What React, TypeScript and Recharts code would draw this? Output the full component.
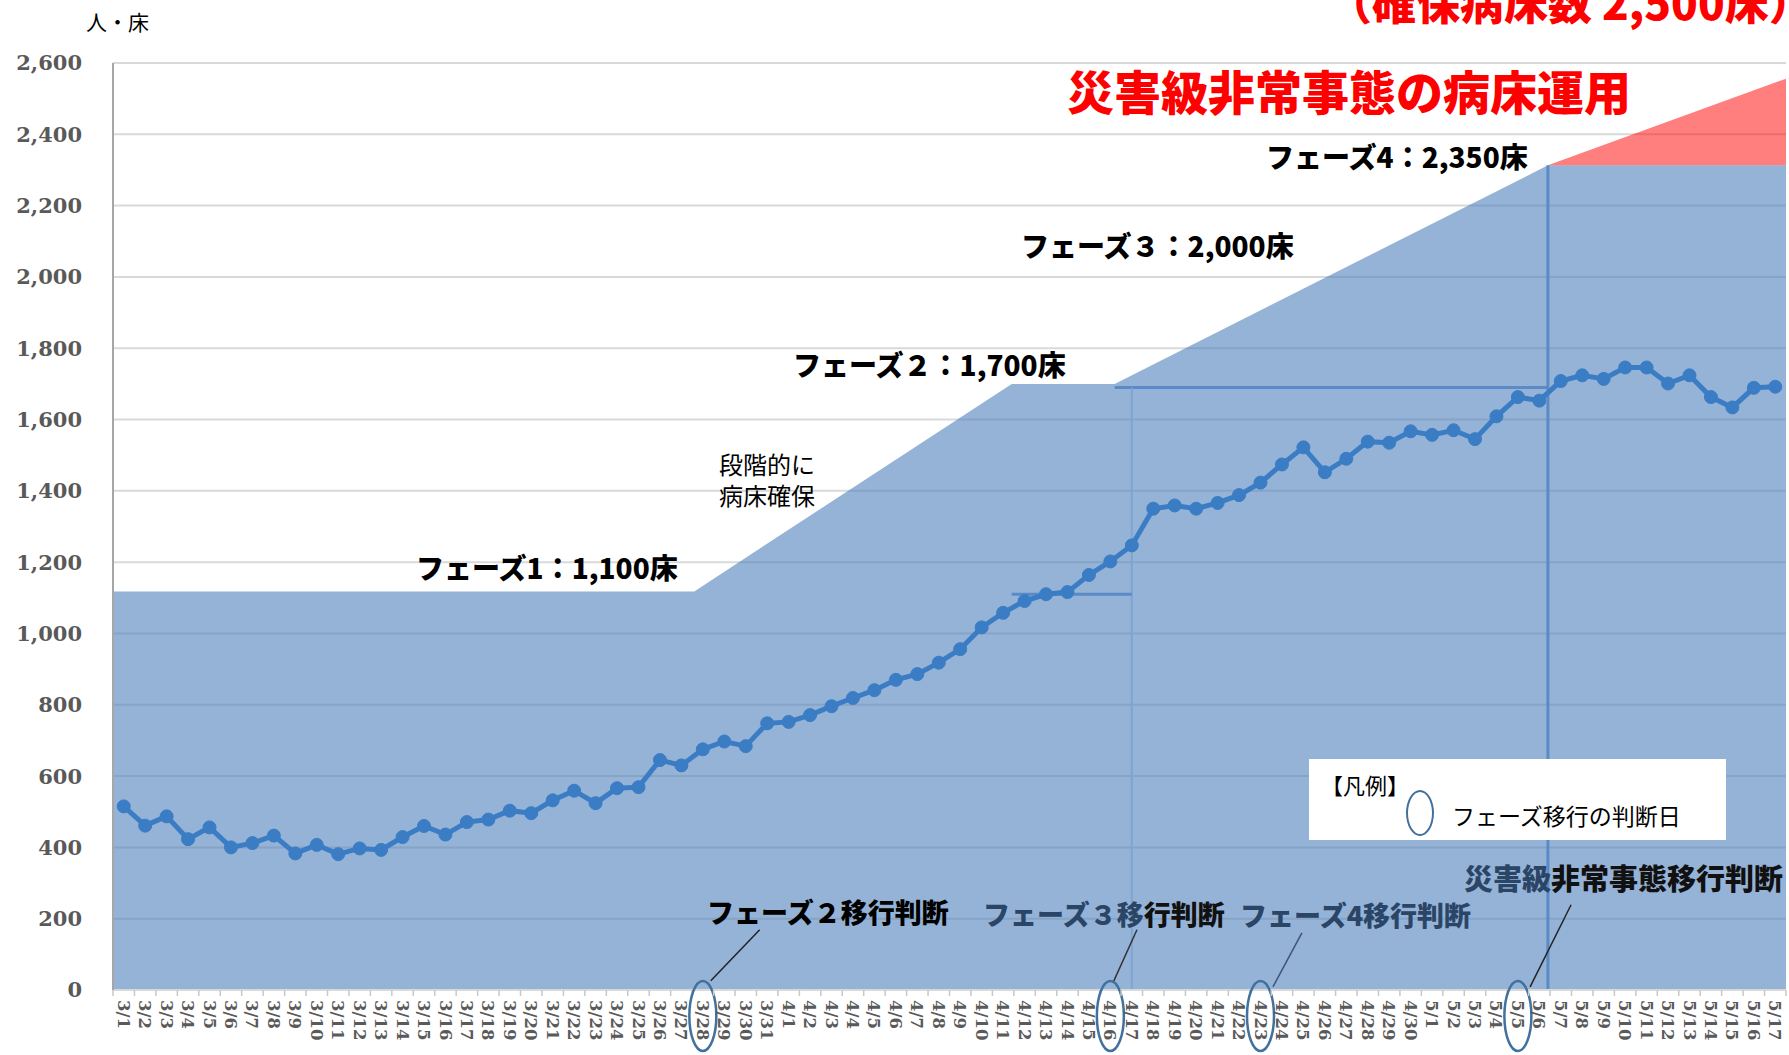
import React from 'react';
import { ComposedChart, Area, Line, XAxis, YAxis, CartesianGrid, ReferenceLine } from 'recharts';

// ---------------- data ----------------
const dateLabels = [
  '3/1','3/2','3/3','3/4','3/5','3/6','3/7','3/8','3/9','3/10',
  '3/11','3/12','3/13','3/14','3/15','3/16','3/17','3/18','3/19','3/20',
  '3/21','3/22','3/23','3/24','3/25','3/26','3/27','3/28','3/29','3/30','3/31',
  '4/1','4/2','4/3','4/4','4/5','4/6','4/7','4/8','4/9','4/10',
  '4/11','4/12','4/13','4/14','4/15','4/16','4/17','4/18','4/19','4/20',
  '4/21','4/22','4/23','4/24','4/25','4/26','4/27','4/28','4/29','4/30',
  '5/1','5/2','5/3','5/4','5/5','5/6','5/7','5/8','5/9','5/10',
  '5/11','5/12','5/13','5/14','5/15','5/16','5/17',
];

const inpatients = [
  515, 461, 487, 423, 456, 400, 412, 433, 383, 407,
  381, 397, 393, 429, 460, 436, 471, 478, 503, 496,
  532, 559, 524, 566, 569, 645, 630, 675, 697, 684, 748,
  752, 771, 796, 819, 841, 870, 886, 918, 956, 1017,
  1058, 1091, 1110, 1116, 1164, 1202, 1247, 1350, 1359, 1350,
  1366, 1388, 1423, 1474, 1522, 1452, 1490, 1538, 1535, 1567,
  1557, 1570, 1545, 1609, 1663, 1653, 1708, 1724, 1714, 1746,
  1746, 1701, 1724, 1663, 1634, 1689, 1692,
];

// secured-bed capacity (category index positions of the breakpoints)
const capacityIdx = [-0.5, 26.6, 41.4, 46.2, 66.4, 77.5];
const capacityBeds = [1118, 1118, 1700, 1700, 2313, 2313];

// disaster-level emergency band
const emergencyIdx = [66.4, 77.5];
const emergencyLow = [2313, 2313];
const emergencyHigh = [2313, 2556];

const judgmentDays = ['3/28', '4/16', '4/23', '5/5'];
const yTicks = [0, 200, 400, 600, 800, 1000, 1200, 1400, 1600, 1800, 2000, 2200, 2400, 2600];

// phase guide lines [x1, y1, x2, y2, colour, width]
const phaseGuides: [number, number, number, number, string, number][] = [
  [46.2, 1690, 66.4, 1690, '#5b8bc6', 3],
  [47.0, 1690, 47.0, 0, '#7da5d3', 2],
  [41.4, 1110, 47.0, 1110, '#5b8bc6', 3],
  [66.4, 2313, 66.4, 0, '#5b8bc6', 3],
];

// leader lines from judgment labels to circled dates [x1, y1, x2, y2, colour]
const leaders: [number, number, number, number, string][] = [
  [29.65, 169, 27.37, 26, '#222'],
  [47.24, 169, 46.12, 20, '#333'],
  [54.93, 160, 53.58, 9, '#3b5676'],
  [67.48, 239, 65.57, 9, '#222'],
];

// ---------------- layout ----------------
const W = 1789;
const H = 1055;
const M = { top: 63, right: 3, left: 0, bottom: 0 };
const Y_AXIS_W = 113;
const X_AXIS_H = 65;
const PLOT_W = W - M.left - M.right - Y_AXIS_W;
const BAND = PLOT_W / dateLabels.length;

const JP = "'Noto Sans CJK JP', 'Noto Sans', sans-serif";
const SERIF = "'DejaVu Serif', serif";

// ---------------- table ----------------
type Row = { x: number; inpatients?: number; capacity?: number; emergency?: [number, number] };
const rowMap = new Map<number, Row>();
const row = (x: number) => {
  if (!rowMap.has(x)) rowMap.set(x, { x });
  return rowMap.get(x)!;
};
dateLabels.forEach((_, i) => { row(i).inpatients = inpatients[i]; });
capacityIdx.forEach((x, i) => { row(x).capacity = capacityBeds[i]; });
emergencyIdx.forEach((x, i) => { row(x).emergency = [emergencyLow[i], emergencyHigh[i]]; });
const chartData = Array.from(rowMap.values()).sort((a, b) => a.x - b.x);
const xTicks = dateLabels.map((_, i) => i);

function DateTick(props: any) {
  const { x, y, payload } = props;
  const idx = payload.value as number;
  const label = dateLabels[idx];
  const judged = judgmentDays.includes(label);
  return (
    <g transform={`translate(${x},${y})`}>
      <line x1={-BAND / 2} x2={-BAND / 2} y1={0} y2={6} stroke="#c8c8c8" strokeWidth={1.5} />
      {idx === dateLabels.length - 1 && (
        <line x1={BAND / 2} x2={BAND / 2} y1={0} y2={6} stroke="#c8c8c8" strokeWidth={1.5} />
      )}
      <text
        transform="rotate(90)"
        x={10}
        y={0}
        dy="0.36em"
        textAnchor="start"
        fontFamily={SERIF}
        fontWeight="bold"
        fontSize={16.5}
        fill="#5a5a5a"
      >
        {label}
      </text>
      {judged && (
        <ellipse cx={0} cy={26} rx={13.5} ry={35} fill="none" stroke="#41719c" strokeWidth={2.5} />
      )}
    </g>
  );
}

function Txt(props: {
  x: number; cy: number; size: number; weight?: number; color?: string;
  children: React.ReactNode; family?: string;
}) {
  const { x, cy, size, weight = 400, color = '#000', children, family = JP } = props;
  return (
    <div
      style={{
        position: 'absolute',
        left: x,
        top: cy - size * 0.56,
        fontSize: size,
        lineHeight: 1,
        fontWeight: weight,
        color,
        fontFamily: family,
        whiteSpace: 'nowrap',
      }}
    >
      {children}
    </div>
  );
}

const SLATE = '#2b4567';

export default function App() {
  return (
    <div
      style={{
        position: 'absolute',
        left: 0,
        top: 0,
        width: W,
        height: H,
        overflow: 'hidden',
        background: '#fff',
      }}
    >
      <ComposedChart width={W} height={H} data={chartData} margin={M}>
        <CartesianGrid horizontal vertical={false} stroke="#d9d9d9" strokeWidth={2} />
        <XAxis
          dataKey="x"
          type="number"
          domain={[-0.5, 77.5]}
          ticks={xTicks}
          interval={0}
          allowDataOverflow
          height={X_AXIS_H}
          tickLine={false}
          tickSize={0}
          tickMargin={0}
          axisLine={{ stroke: '#d9d9d9', strokeWidth: 2 }}
          tick={<DateTick />}
        />
        <YAxis
          type="number"
          domain={[0, 2600]}
          ticks={yTicks}
          interval={0}
          width={Y_AXIS_W}
          tickLine={false}
          tickSize={6}
          tickMargin={25}
          axisLine={{ stroke: '#a6a6a6', strokeWidth: 2 }}
          tickFormatter={(v: number) => v.toLocaleString('en-US')}
          tick={{ fontFamily: SERIF, fontWeight: 700, fontSize: 21, fill: '#595959' }}
        />
        <Area
          type="linear"
          dataKey="capacity"
          connectNulls
          stroke="none"
          fill="#4f81bd"
          fillOpacity={0.6}
          isAnimationActive={false}
          dot={false}
          activeDot={false}
        />
        <Area
          type="linear"
          dataKey="emergency"
          connectNulls
          stroke="none"
          fill="#ff0000"
          fillOpacity={0.5}
          isAnimationActive={false}
          dot={false}
          activeDot={false}
        />
        {phaseGuides.map(([x1, y1, x2, y2, c, w], i) => (
          <ReferenceLine
            key={`g${i}`}
            segment={[{ x: x1, y: y1 }, { x: x2, y: y2 }]}
            stroke={c}
            strokeWidth={w}
            ifOverflow="visible"
          />
        ))}
        <Line
          type="linear"
          dataKey="inpatients"
          connectNulls
          stroke="#3b7dc4"
          strokeWidth={5}
          dot={{ r: 6.5, fill: '#3b7dc4', stroke: '#3b7dc4', strokeWidth: 1 }}
          activeDot={false}
          isAnimationActive={false}
        />
        {leaders.map(([x1, y1, x2, y2, c], i) => (
          <ReferenceLine
            key={`l${i}`}
            segment={[{ x: x1, y: y1 }, { x: x2, y: y2 }]}
            stroke={c}
            strokeWidth={1.5}
            ifOverflow="visible"
          />
        ))}
      </ComposedChart>

      {/* annotations */}
      <Txt x={86} cy={23} size={21}>人・床</Txt>
      <Txt x={1328} cy={4} size={44} weight={900} color="#ff0000">（確保病床数 2,500床）</Txt>
      <Txt x={1067} cy={92} size={47} weight={900} color="#ff0000">災害級非常事態の病床運用</Txt>
      <Txt x={1266} cy={158} size={28} weight={900}>フェーズ4：2,350床</Txt>
      <Txt x={1021} cy={247} size={28} weight={900}>フェーズ３：2,000床</Txt>
      <Txt x={793} cy={366} size={28} weight={900}>フェーズ２：1,700床</Txt>
      <Txt x={416} cy={569} size={28} weight={900}>フェーズ1：1,100床</Txt>
      <div
        style={{
          position: 'absolute', left: 719, top: 448, fontSize: 24, lineHeight: '31px',
          fontFamily: JP, color: '#000', whiteSpace: 'nowrap',
        }}
      >
        段階的に<br />病床確保
      </div>

      <div
        style={{
          position: 'absolute', left: 1309, top: 759, width: 417, height: 81, background: '#fff',
        }}
      />
      <Txt x={1321} cy={785} size={22}>【凡例】</Txt>
      <div
        style={{
          position: 'absolute', left: 1406, top: 790, width: 24, height: 42,
          border: '2.5px solid #41719c', borderRadius: '50%',
        }}
      />
      <Txt x={1452} cy={817} size={23}>フェーズ移行の判断日</Txt>

      <Txt x={707} cy={913} size={27} weight={900}>フェーズ２移行判断</Txt>
      <Txt x={983} cy={915} size={27} weight={900} color={SLATE}>
        フェーズ３移<span style={{ color: '#111' }}>行判断</span>
      </Txt>
      <Txt x={1240} cy={916} size={27} weight={900} color={SLATE}>フェーズ4移行判断</Txt>
      <Txt x={1464} cy={879} size={29} weight={900} color={SLATE}>
        災害級<span style={{ color: '#111' }}>非常事態移行判断</span>
      </Txt>
    </div>
  );
}
